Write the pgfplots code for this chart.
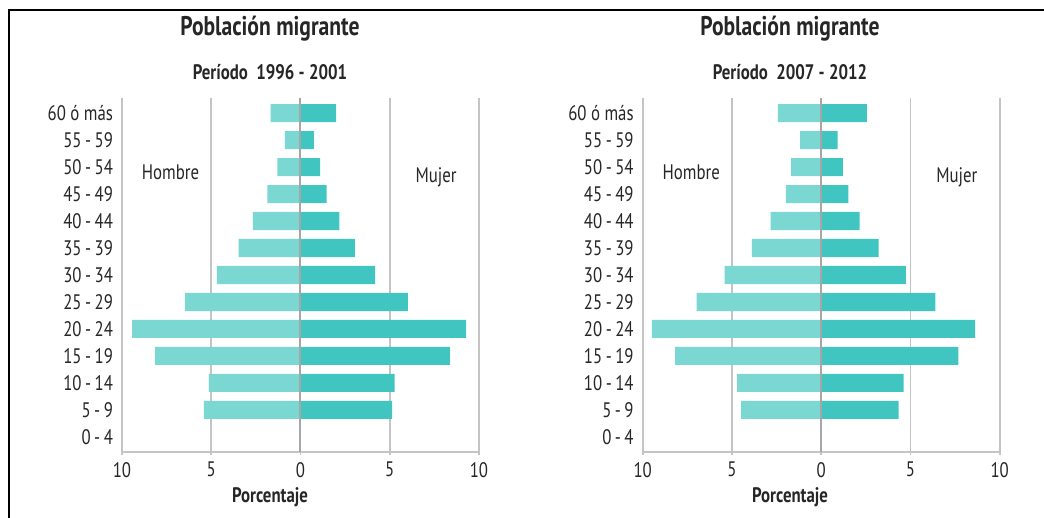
\documentclass[border=0pt]{standalone}
\usepackage{pgfplots}
\pgfplotsset{compat=1.18}
\usepackage{pgfplotstable}
\usepackage{fontspec}
\setmainfont{PT Sans}[FakeStretch=0.8]
\definecolor{hombre}{HTML}{7BD7D2}
\definecolor{mujer}{HTML}{40C5C1}
\definecolor{txt}{HTML}{262626}
\definecolor{gridc}{HTML}{C4C4C4}
\definecolor{zeroc}{HTML}{A6A6A6}

\pgfplotstableread{
y h1 m1 h2 m2
0 0 0 0 0
1 5.42 5.14 4.49 4.34
2 5.14 5.28 4.71 4.62
3 8.14 8.37 8.19 7.69
4 9.43 9.28 9.49 8.62
5 6.46 6.01 6.98 6.40
6 4.69 4.18 5.41 4.75
7 3.47 3.04 3.89 3.22
8 2.67 2.18 2.83 2.15
9 1.85 1.46 1.98 1.52
10 1.30 1.10 1.68 1.22
11 0.88 0.75 1.18 0.92
12 1.68 2.00 2.43 2.56
}\datatab

\pgfplotsset{pyr/.style={
  scale only axis, width=178.5pt, height=177pt,
  xmin=-10, xmax=10, ymin=-0.56, ymax=12.56,
  axis lines=left, axis line style={-},
  x axis line style={gridc, line width=1pt},
  y axis line style={gridc, line width=0.8pt},
  xtick={-10,-5,0,5,10}, xticklabels={10,5,0,5,10},
  ytick={0,...,12},
  yticklabels={0\,-\,4,5\,-\,9,10\,-\,14,15\,-\,19,20\,-\,24,25\,-\,29,30\,-\,34,35\,-\,39,40\,-\,44,45\,-\,49,50\,-\,54,55\,-\,59,60 ó más},
  xmajorgrids, major grid style={gridc, line width=0.8pt},
  tick align=outside, major tick length=1.5pt,
  x tick style={gridc, line width=0.8pt},
  y tick style={draw=none},
  tick label style={font=\fontsize{10.5}{12}\selectfont, text=txt},
  y tick label style={xshift=0.5pt},
  xbar, bar width=0.67, bar shift=0pt,
  clip=false,
}}

\begin{document}
\begin{tikzpicture}
\useasboundingbox (0,0) rectangle (522pt,259pt);
\draw[line width=1.3pt] (4.5pt,0) -- (4.5pt,254pt) -- (522pt,254pt);

\begin{axis}[pyr, at={(61pt,33pt)}, anchor=south west]
\addplot[fill=hombre, draw=none] table[x expr=-\thisrow{h1}, y=y] {\datatab};
\addplot[fill=mujer, draw=none] table[x=m1, y=y] {\datatab};
\draw[zeroc, line width=1pt] (axis cs:0,-0.56) -- (axis cs:0,12.56);
\node[text=txt, font=\fontsize{10.5}{12}\selectfont] at (axis cs:-7.28,9.8) {Hombre};
\node[text=txt, font=\fontsize{10.5}{12}\selectfont] at (axis cs:7.6,9.63) {Mujer};
\end{axis}

\begin{axis}[pyr, at={(321.35pt,33pt)}, anchor=south west]
\addplot[fill=hombre, draw=none] table[x expr=-\thisrow{h2}, y=y] {\datatab};
\addplot[fill=mujer, draw=none] table[x=m2, y=y] {\datatab};
\draw[zeroc, line width=1pt] (axis cs:0,-0.56) -- (axis cs:0,12.56);
\node[text=txt, font=\fontsize{10.5}{12}\selectfont] at (axis cs:-7.28,9.8) {Hombre};
\node[text=txt, font=\fontsize{10.5}{12}\selectfont] at (axis cs:7.6,9.63) {Mujer};
\end{axis}

\node[text=txt, font=\bfseries\fontsize{13.5}{15}\selectfont] at (135pt,244.5pt) {Población migrante};
\node[text=txt, font=\bfseries\fontsize{10.5}{12}\selectfont] at (135pt,223pt) {Período\ \ 1996 - 2001};
\node[text=txt, font=\bfseries\fontsize{10.5}{12}\selectfont] at (135pt,10.5pt) {Porcentaje};

\node[text=txt, font=\bfseries\fontsize{13.5}{15}\selectfont] at (395pt,244.5pt) {Población migrante};
\node[text=txt, font=\bfseries\fontsize{10.5}{12}\selectfont] at (395pt,223pt) {Período\ \ 2007 - 2012};
\node[text=txt, font=\bfseries\fontsize{10.5}{12}\selectfont] at (395pt,10.5pt) {Porcentaje};
\end{tikzpicture}
\end{document}
